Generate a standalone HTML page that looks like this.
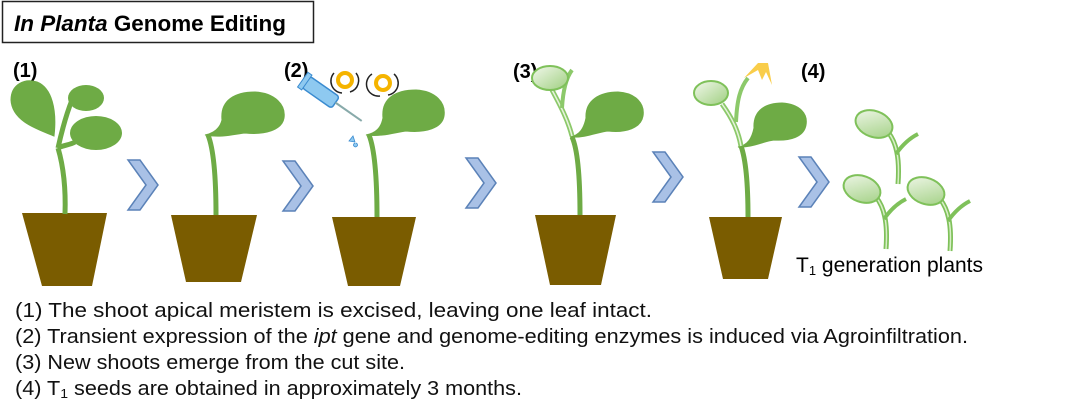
<!DOCTYPE html>
<html><head><meta charset="utf-8"><style>
html,body{margin:0;padding:0;background:#fff;}
svg{display:block;}
text{font-family:"Liberation Sans",Arial,sans-serif;}
</style></head><body>
<svg width="1081" height="412" viewBox="0 0 1081 412" xmlns="http://www.w3.org/2000/svg">
<defs>
<linearGradient id="lg" x1="0" y1="0" x2="1" y2="1">
<stop offset="0" stop-color="#f2f8ec"/><stop offset="1" stop-color="#9fcf80"/>
</linearGradient>
<g id="chev"><path d="M0,0 H12 L30,25 L12,50 H0 L18,25 Z" fill="#a9c1e6" stroke="#5b82b8" stroke-width="1.5"/></g>
<g id="seed">
<path d="M0,0 C8,10 12,25 10,52" fill="none" stroke="#7fc15a" stroke-width="5"/>
<path d="M0,0 C8,10 12,25 10,52" fill="none" stroke="#d9efc8" stroke-width="1.5"/>
<path d="M8,22 C15,12 22,6 30,2" fill="none" stroke="#7fc15a" stroke-width="4"/>
<ellipse cx="-14" cy="-8" rx="19" ry="13" transform="rotate(20 -14 -8)" fill="url(#lg)" stroke="#7fc15a" stroke-width="2"/>
</g>
</defs>
<!-- title -->
<rect x="2.5" y="1.5" width="311" height="41" fill="#fff" stroke="#222" stroke-width="1.5"/>
<text x="14" y="31" font-size="22" font-weight="bold" textLength="272" lengthAdjust="spacingAndGlyphs"><tspan font-style="italic">In Planta</tspan> Genome Editing</text>
<!-- step labels -->
<g font-size="20" font-weight="bold">
<text x="13" y="77">(1)</text>
<text x="284" y="77">(2)</text>
<text x="513" y="78">(3)</text>
<text x="801" y="78">(4)</text>
</g>
<!-- pots -->
<g fill="#7a5c00">
<path d="M22,213 H107 L92,286 H42 Z"/>
<path d="M171,215 H257 L241,282 H186 Z"/>
<path d="M332,217 H416 L400,286 H348 Z"/>
<path d="M535,215 H616 L601,285 H550 Z"/>
<path d="M709,217 H782 L768,279 H723 Z"/>
</g>
<!-- chevrons -->
<use href="#chev" x="128" y="160"/>
<use href="#chev" x="283" y="161"/>
<use href="#chev" x="466" y="158"/>
<use href="#chev" x="653" y="152"/>
<use href="#chev" x="799" y="157"/>
<!-- plant 1 -->
<g fill="#6eab45" stroke="#6eab45">
<path d="M65,214 C66,185 63,165 58,148" fill="none" stroke-width="5"/>
<path d="M58,148 C62,130 66,115 72,100" fill="none" stroke-width="5"/>
<path d="M58,148 C64,145 70,145 75,142" fill="none" stroke-width="5"/>
<path d="M54,136 C40,130 12,122 11,100 C11,84 25,78 37,82 C52,88 57,110 54,136 Z" stroke-width="1"/>
<ellipse cx="86" cy="98" rx="18" ry="13" stroke-width="0"/>
<ellipse cx="96" cy="133" rx="26" ry="17" stroke-width="0"/>
</g>
<!-- plant 2 -->
<g fill="#6eab45" stroke="#6eab45">
<path d="M216,215 C216,180 214,150 208,135" fill="none" stroke-width="5"/>
<path d="M205,135 C215,133 220,128 222,120 C220,100 235,92 255,92 C275,93 286,105 284,118 C282,130 265,135 245,133 C235,134 222,138 205,135 Z" stroke-width="1"/>
</g>
<!-- plant 3 -->
<g fill="#6eab45" stroke="#6eab45">
<path d="M377,217 C377,180 375,150 369,135" fill="none" stroke-width="5"/>
<path d="M366,135 C376,133 381,128 383,118 C381,98 396,90 416,90 C436,91 446,103 444,116 C442,128 426,133 406,131 C396,132 383,137 366,135 Z" stroke-width="1"/>
</g>
<!-- syringe -->
<g transform="rotate(35 330 100)">
<rect x="300" y="92" width="36" height="14" rx="3" fill="#8ec9f0" stroke="#3a8bd0" stroke-width="1.5"/>
<rect x="296" y="90" width="5" height="18" fill="#8ec9f0" stroke="#3a8bd0"/>
<line x1="336" y1="99" x2="368" y2="99" stroke="#8aa" stroke-width="2"/>
</g>
<path d="M349,141 l4,-5 l2,6 Z M355,143 a2,2 0 1,0 1,0" fill="#8ec9f0" stroke="#3a8bd0" stroke-width="0.8"/>
<g fill="none">
<circle cx="345" cy="80" r="7" stroke="#f5b400" stroke-width="4"/>
<circle cx="383" cy="83" r="7" stroke="#f5b400" stroke-width="4"/>
<path d="M334,73 A12,12 0 0,0 342,93" stroke="#222" stroke-width="1.5"/>
<path d="M356,73 A12,12 0 0,1 350,92" stroke="#222" stroke-width="1.5"/>
<path d="M372,74 A12,12 0 0,0 380,96" stroke="#222" stroke-width="1.5"/>
<path d="M394,74 A12,12 0 0,1 388,95" stroke="#222" stroke-width="1.5"/>
</g>
<!-- plant 4 -->
<g fill="#6eab45" stroke="#6eab45">
<path d="M580,215 C580,180 578,150 572,137" fill="none" stroke-width="5"/>
<path d="M570,137 C580,135 584,128 586,118 C585,100 600,92 618,92 C636,93 645,104 643,116 C641,128 626,133 608,131 C598,132 586,138 570,137 Z" stroke-width="1"/>
</g>
<g fill="none">
<path d="M572,136 C568,120 560,105 552,90" stroke="#8cc96a" stroke-width="5"/>
<path d="M572,136 C568,120 560,105 552,90" stroke="#e6f3dc" stroke-width="1.5"/>
<path d="M562,108 C563,90 566,78 572,70" stroke="#8cc96a" stroke-width="4"/>
</g>
<ellipse cx="550" cy="78" rx="18" ry="12" fill="url(#lg)" stroke="#7fc15a" stroke-width="2"/>
<!-- plant 5 -->
<g fill="#6eab45" stroke="#6eab45">
<path d="M748,217 C748,185 746,160 741,146" fill="none" stroke-width="5"/>
<path d="M738,147 C748,145 752,138 754,128 C753,110 766,103 782,103 C800,104 808,114 806,125 C804,137 790,141 774,140 C764,141 752,148 738,147 Z" stroke-width="1"/>
</g>
<g fill="none">
<path d="M741,146 C738,130 732,118 722,104" stroke="#8cc96a" stroke-width="5"/>
<path d="M741,146 C738,130 732,118 722,104" stroke="#e6f3dc" stroke-width="1.5"/>
<path d="M736,122 C737,100 740,88 748,78" stroke="#8cc96a" stroke-width="4"/>
</g>
<ellipse cx="711" cy="93" rx="17" ry="12" fill="url(#lg)" stroke="#7fc15a" stroke-width="2"/>
<path d="M744,78 L758,63 L768,63 L772,85 L766,72 L762,80 L758,70 Z" fill="#f9cd4a"/>
<!-- seedlings -->
<use href="#seed" x="888" y="132"/>
<use href="#seed" x="876" y="197"/>
<use href="#seed" x="940" y="199"/>
<text x="796" y="272" font-size="21">T<tspan font-size="13" dy="3">1</tspan><tspan dy="-3"> generation plants</tspan></text>
<!-- captions -->
<g font-size="20" fill="#111">
<text x="15" y="317" textLength="637" lengthAdjust="spacingAndGlyphs">(1) The shoot apical meristem is excised, leaving one leaf intact.</text>
<text x="15" y="343" textLength="953" lengthAdjust="spacingAndGlyphs">(2) Transient expression of the <tspan font-style="italic">ipt</tspan> gene and genome-editing enzymes is induced via Agroinfiltration.</text>
<text x="15" y="369" textLength="390" lengthAdjust="spacingAndGlyphs">(3) New shoots emerge from the cut site.</text>
<text x="15" y="395" textLength="507" lengthAdjust="spacingAndGlyphs">(4) T<tspan font-size="13" dy="3">1</tspan><tspan dy="-3"> seeds are obtained in approximately 3 months.</tspan></text>
</g>
</svg>
</body></html>
